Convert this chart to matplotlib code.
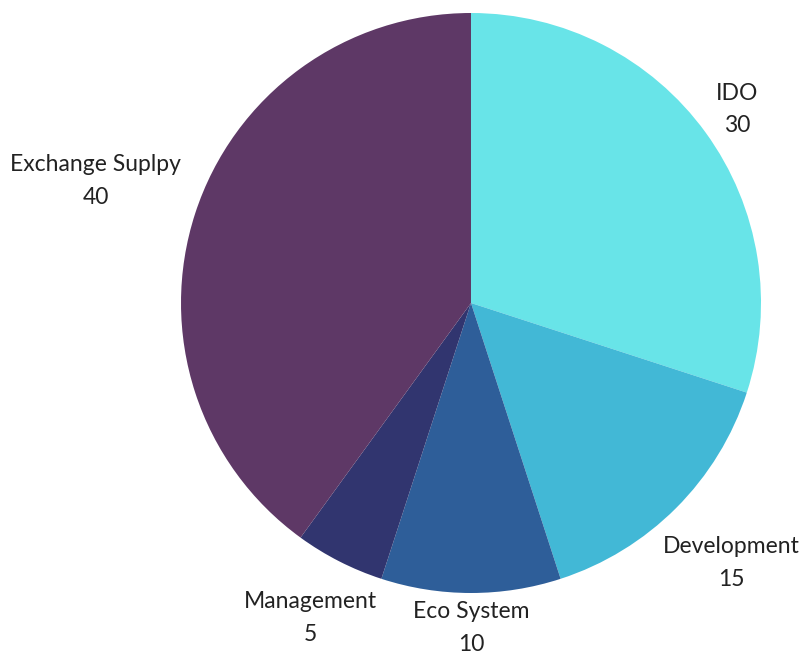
import matplotlib.pyplot as plt
import numpy as np

labels = ['IDO', 'Development', 'Eco System', 'Management', 'Exchange Suplpy']
values = [30, 15, 10, 5, 40]
colors = ['#68e4e8', '#42b8d6', '#2e5e99', '#31356f', '#5e3866']

# how far out each label sits (in radii), since the labels hug the pie differently
label_dist = [1.135, 1.27, 1.12, 1.22, 1.36]

fig = plt.figure(figsize=(8, 6.57), dpi=100)
ax = fig.add_axes([0, 0, 1, 1])

wedges, _ = ax.pie(values, colors=colors, startangle=90, counterclock=False,
                   radius=1.0, wedgeprops=dict(linewidth=0))

for w, lab, val, dist in zip(wedges, labels, values, label_dist):
    ang = np.deg2rad((w.theta1 + w.theta2) / 2)
    x, y = dist * np.cos(ang), dist * np.sin(ang)
    ax.text(x, y, f'{lab}\n{val}', ha='center', va='center', fontsize=16.5,
            family='Lato', color='#222222', linespacing=1.7)

# center of the pie sits at (471, 303) px, radius 290 px
ax.set_xlim(-471 / 290, (800 - 471) / 290)
ax.set_ylim(-(657 - 303) / 290, 303 / 290)
ax.set_aspect('auto')
ax.axis('off')

fig.savefig('out.png', dpi=100)
